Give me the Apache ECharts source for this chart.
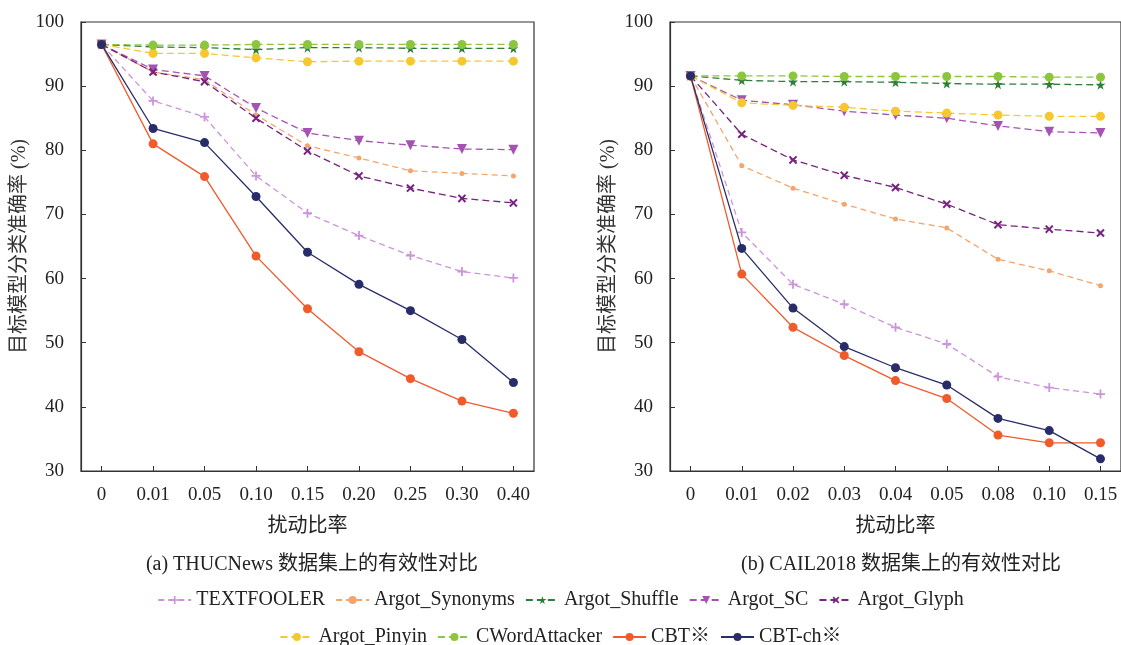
<!DOCTYPE html>
<html>
<head>
<meta charset="utf-8">
<script src="https://cdn.jsdelivr.net/npm/echarts@6/dist/echarts.min.js"></script>
<style>
  html, body { margin: 0; padding: 0; background: #fff; }
  #main { width: 1121px; height: 645px; }
</style>
</head>
<body>
<div id="main"></div>
<script>
// 横轴刻度
var catsA = ['0', '0.01', '0.05', '0.10', '0.15', '0.20', '0.25', '0.30', '0.40'];
var catsB = ['0', '0.01', '0.02', '0.03', '0.04', '0.05', '0.08', '0.10', '0.15'];
var yTicks = [30, 40, 50, 60, 70, 80, 90, 100];

var names = ['TEXTFOOLER', 'Argot_Synonyms', 'Argot_Shuffle', 'Argot_SC', 'Argot_Glyph',
             'Argot_Pinyin', 'CWordAttacker', 'CBT※', 'CBT-ch※'];

// (a) THUCNews
var thucTextfooler = [96.5, 87.7, 85.2, 76.0, 70.2, 66.7, 63.6, 61.1, 60.1];
var thucSynonyms   = [96.5, 92.2, 91.0, 85.5, 80.7, 78.8, 76.8, 76.4, 76.0];
var thucShuffle    = [96.5, 96.1, 96.0, 95.7, 96.0, 96.0, 95.9, 95.9, 95.9];
var thucSC         = [96.5, 92.6, 91.6, 86.6, 82.7, 81.5, 80.8, 80.2, 80.1];
var thucGlyph      = [96.5, 92.2, 90.7, 85.0, 79.9, 76.0, 74.1, 72.5, 71.8];
var thucPinyin     = [96.5, 95.1, 95.1, 94.4, 93.8, 93.9, 93.9, 93.9, 93.9];
var thucCWord      = [96.5, 96.4, 96.4, 96.5, 96.5, 96.5, 96.5, 96.5, 96.5];
var thucCBT        = [96.5, 81.0, 75.9, 63.5, 55.3, 48.6, 44.4, 40.9, 39.0];
var thucCBTch      = [96.5, 83.4, 81.2, 72.8, 64.1, 59.1, 55.0, 50.5, 43.8];

// (b) CAIL2018
var cailTextfooler = [91.6, 67.2, 59.1, 56.0, 52.4, 49.8, 44.7, 43.0, 42.0];
var cailSynonyms   = [91.6, 77.6, 74.1, 71.6, 69.3, 67.9, 63.0, 61.2, 58.9];
var cailShuffle    = [91.6, 90.9, 90.7, 90.7, 90.6, 90.4, 90.3, 90.3, 90.2];
var cailSC         = [91.6, 87.8, 87.1, 86.1, 85.5, 85.0, 83.8, 82.9, 82.7];
var cailGlyph      = [91.6, 82.5, 78.5, 76.1, 74.2, 71.6, 68.4, 67.7, 67.1];
var cailPinyin     = [91.6, 87.4, 87.0, 86.7, 86.1, 85.8, 85.5, 85.3, 85.3];
var cailCWord      = [91.6, 91.6, 91.6, 91.5, 91.5, 91.5, 91.5, 91.4, 91.4];
var cailCBT        = [91.6, 60.7, 52.4, 48.0, 44.1, 41.3, 35.6, 34.4, 34.4];
var cailCBTch      = [91.6, 64.7, 55.4, 49.4, 46.1, 43.4, 38.2, 36.3, 31.9];

var thucData = [thucTextfooler, thucSynonyms, thucShuffle, thucSC, thucGlyph, thucPinyin, thucCWord, thucCBT, thucCBTch];
var cailData = [cailTextfooler, cailSynonyms, cailShuffle, cailSC, cailGlyph, cailPinyin, cailCWord, cailCBT, cailCBTch];

var colors = ['#cc94da', '#f5a56b', '#2f7d3b', '#a453b3', '#76237f', '#f6c830', '#8cc63e', '#f15a2b', '#282d6a'];

var plusPath = 'path://M4,0H6V4H10V6H6V10H4V6H0V4H4Z';
var starPath = 'path://M50,0L61,35L98,35L68,57L79,91L50,70L21,91L32,57L2,35L39,35Z';
var styles = [
  { symbol: plusPath, size: 9, rotate: 0, dash: [6, 4] },
  { symbol: 'circle', size: 5, rotate: 0, dash: [6, 4] },
  { symbol: starPath, size: 10, rotate: 0, dash: [7, 4] },
  { symbol: 'triangle', size: 10, rotate: 180, dash: [7, 4] },
  { symbol: plusPath, size: 10, rotate: 45, dash: [7, 4] },
  { symbol: 'circle', size: 9, rotate: 0, dash: [7, 4] },
  { symbol: 'circle', size: 9, rotate: 0, dash: [7, 4] },
  { symbol: 'circle', size: 9, rotate: 0, dash: 'solid' },
  { symbol: 'circle', size: 9, rotate: 0, dash: 'solid' }
];

var serif = "'Liberation Serif', 'Noto Sans CJK SC', serif";

function makeSeries(gridIdx, arr) {
  return arr.map(function (vals, k) {
    return {
      name: names[k],
      type: 'line',
      xAxisIndex: gridIdx,
      yAxisIndex: gridIdx,
      data: vals.map(function (v, i) { return [i, v]; }),
      symbol: styles[k].symbol,
      symbolSize: styles[k].size,
      symbolRotate: styles[k].rotate,
      showAllSymbol: true,
      color: colors[k],
      lineStyle: { width: 1.3, type: styles[k].dash },
      z: k >= 7 ? 5 : 3,
      animation: false
    };
  });
}

function xAxis(gridIdx, cats) {
  return {
    type: 'value', gridIndex: gridIdx, min: -0.4, max: 8.4,
    splitLine: { show: false },
    axisLine: { onZero: false, lineStyle: { color: '#333', width: 1.2 } },
    axisTick: { inside: true, length: 5, lineStyle: { color: '#333' }, customValues: [0, 1, 2, 3, 4, 5, 6, 7, 8] },
    axisLabel: {
      customValues: [0, 1, 2, 3, 4, 5, 6, 7, 8],
      formatter: function (v) { return cats[Math.round(v)]; },
      color: '#222', fontSize: 19, fontFamily: serif, margin: 15
    },
    name: '扰动比率', nameLocation: 'middle', nameGap: 46,
    nameTextStyle: { color: '#222', fontSize: 20, fontFamily: serif }
  };
}

function yAxis(gridIdx) {
  return {
    type: 'value', gridIndex: gridIdx, min: yTicks[0], max: yTicks[yTicks.length - 1], interval: 10,
    splitLine: { show: false },
    axisLine: { show: true, onZero: false, lineStyle: { color: '#333', width: 1.2 } },
    axisTick: { show: true, inside: true, length: 5, lineStyle: { color: '#333' } },
    axisLabel: { color: '#222', fontSize: 19, fontFamily: serif, margin: 17 },
    name: '目标模型分类准确率 (%)', nameLocation: 'middle', nameGap: 51,
    nameTextStyle: { color: '#333', fontSize: 20, fontFamily: serif }
  };
}

var chart = echarts.init(document.getElementById('main'));
chart.setOption({
  backgroundColor: '#fff',
  animation: false,
  title: [
    { text: '(a) THUCNews 数据集上的有效性对比', left: 307, top: 550, textAlign: 'center',
      textStyle: { fontSize: 20, fontWeight: 'normal', color: '#222', fontFamily: serif } },
    { text: '(b) CAIL2018 数据集上的有效性对比', left: 896, top: 550, textAlign: 'center',
      textStyle: { fontSize: 20, fontWeight: 'normal', color: '#222', fontFamily: serif } }
  ],
  legend: [
    { data: names.slice(0, 5), top: 585, left: 'center', itemWidth: 33, itemHeight: 10, itemGap: 10,
      textStyle: { fontSize: 20, color: '#222', fontFamily: serif } },
    { data: names.slice(5), top: 622, left: 'center', itemWidth: 33, itemHeight: 10, itemGap: 10,
      textStyle: { fontSize: 20, color: '#222', fontFamily: serif } }
  ],
  grid: [
    { left: 81, top: 22, width: 453, height: 449, show: true, borderColor: '#333', borderWidth: 1.2, backgroundColor: 'transparent' },
    { left: 670, top: 22, width: 453, height: 449, show: true, borderColor: '#333', borderWidth: 1.2, backgroundColor: 'transparent' }
  ],
  xAxis: [xAxis(0, catsA), xAxis(1, catsB)],
  yAxis: [yAxis(0), yAxis(1)],
  series: makeSeries(0, thucData).concat(makeSeries(1, cailData))
});
</script>
</body>
</html>
